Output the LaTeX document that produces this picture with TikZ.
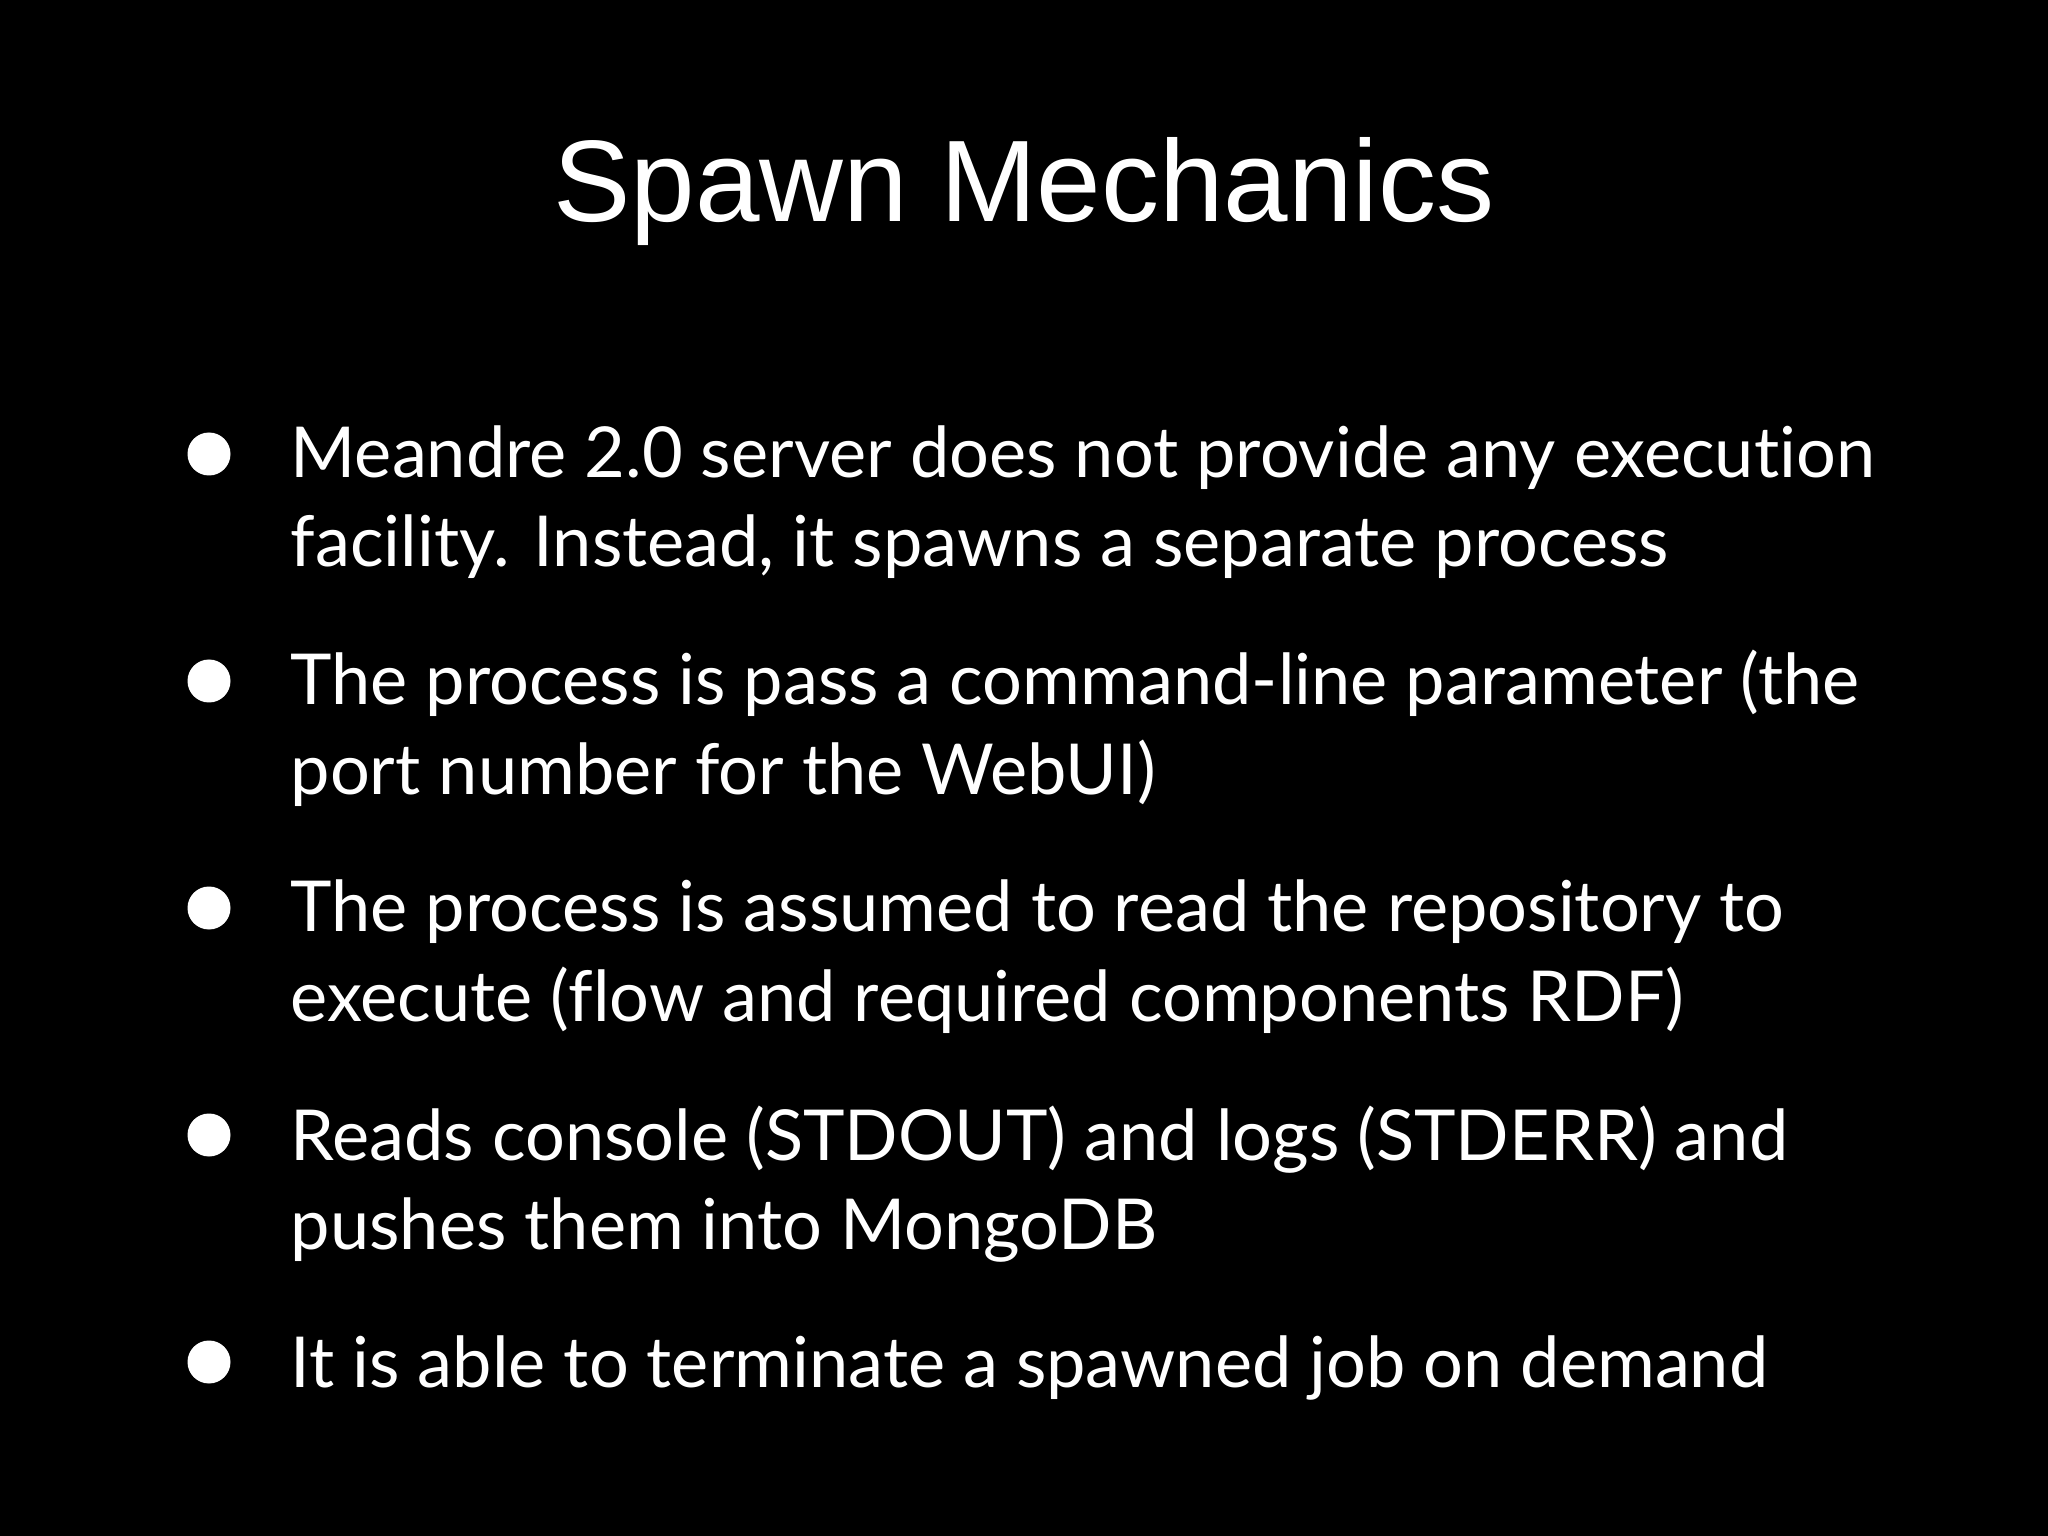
\documentclass[tikz,border=0pt]{standalone}
\usepackage{fontspec}
\setmainfont[Ligatures=NoCommon]{Lato}
\newfontfamily\titlefont{Liberation Sans}
\begin{document}
\begin{tikzpicture}[x=1cm,y=1cm,
  ln/.style={anchor=base west,inner sep=0pt,text=white,font=\fontsize{20}{24}\selectfont},
  bul/.style={circle,fill=white,minimum size=0.43cm,inner sep=0pt}]
\fill[black] (0,0) rectangle (20.48,-15.36);
\useasboundingbox (0,0) rectangle (20.48,-15.36);
\node[anchor=base,inner sep=0pt,text=white,font=\titlefont\fontsize{33}{38}\selectfont] (title) at (10.24,-2.22) {Spawn Mechanics};
\foreach \i/\y in {1/4.54,2/6.81,3/9.08,4/11.35,5/13.62}{
  \node[bul] (b\i) at (2.09,-\y) {};
}
\node[ln] (l1a) at (2.90,-4.78) {Meandre 2.0 server does not provide any execution};
\node[ln] (l1b) at (2.90,-5.67) {facility. Instead, it spawns a separate process};
\node[ln] (l2a) at (2.90,-7.05) {The process is pass a command-line parameter (the};
\node[ln] (l2b) at (2.90,-7.94) {port number for the WebUI)};
\node[ln] (l3a) at (2.90,-9.32) {The process is assumed to read the repository to};
\node[ln] (l3b) at (2.90,-10.21) {execute (flow and required components RDF)};
\node[ln] (l4a) at (2.90,-11.60) {Reads console (STDOUT) and logs (STDERR) and};
\node[ln] (l4b) at (2.90,-12.49) {pushes them into MongoDB};
\node[ln] (l5a) at (2.90,-13.87) {It is able to terminate a spawned job on demand};
\end{tikzpicture}
\end{document}
